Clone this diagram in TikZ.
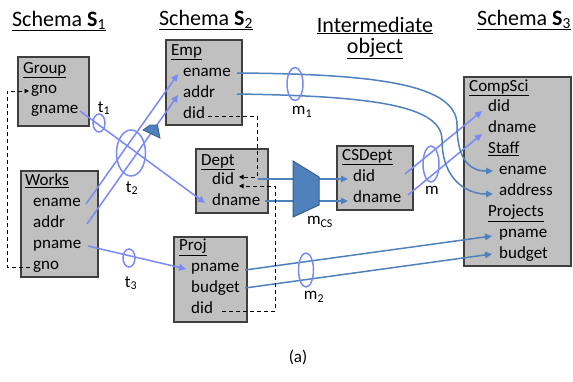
\documentclass[tikz,border=0pt]{standalone}
\usepackage{fontspec}
\setmainfont{Carlito}
\usetikzlibrary{arrows.meta,calc}
\definecolor{lb}{RGB}{122,138,245}
\definecolor{sb}{RGB}{79,129,189}
\definecolor{sbd}{RGB}{56,93,138}
\definecolor{boxfill}{RGB}{192,192,192}
\definecolor{boxline}{RGB}{64,64,64}
\begin{document}
\begin{tikzpicture}[x=1pt,y=-1pt,
  schemabox/.style={draw=boxline,fill=boxfill,line width=1.2pt},
  txt/.style={anchor=mid west,inner sep=0pt,font=\fontsize{17}{20}\selectfont},
  ttl/.style={anchor=base,inner sep=0pt,align=center,font=\fontsize{22}{21}\selectfont},
  lbl/.style={inner sep=0pt,font=\fontsize{17}{20}\selectfont},
  lblue/.style={draw=lb,line width=1.5pt},
  sblue/.style={draw=sb,line width=1.5pt},
  tipL/.style={-{Triangle[length=7pt,width=6.5pt]}},
  dsh/.style={draw=black,line width=0.9pt,dash pattern=on 4pt off 3pt,-{Triangle[length=4.5pt,width=4.5pt]}},
  ring/.style={draw=lb,line width=1.5pt},
]
\useasboundingbox (0,0) rectangle (573,381);

% titles
\node[ttl] (h1) at (59,26) {\underline{Schema \textbf{S}\textsubscript{1}}};
\node[ttl] (h2) at (206,25) {\underline{Schema \textbf{S}\textsubscript{2}}};
\node[ttl] (h3) at (375,53) {\underline{Intermediate}\\\underline{object}};
\node[ttl] (h4) at (524,25) {\underline{Schema \textbf{S}\textsubscript{3}}};

% boxes
\draw[schemabox] (18,57) rectangle (89,126);
\draw[schemabox] (21,171) rectangle (98,277);
\draw[schemabox] (166,40) rectangle (242,125);
\draw[schemabox] (196,149) rectangle (268,213);
\draw[schemabox] (174,237) rectangle (247,322);
\draw[schemabox] (337,146) rectangle (413,210);
\draw[schemabox] (464,77) rectangle (571,266);

% Group
\node[txt] (g-t) at (23,71) {\underline{Group}};
\node[txt] (g-gno) at (31,91) {gno};
\node[txt] (g-gname) at (31,111) {gname};
% Works
\node[txt] (w-t) at (25,183) {\underline{Works}};
\node[txt] (w-ename) at (33,204) {ename};
\node[txt] (w-addr) at (33,225) {addr};
\node[txt] (w-pname) at (33,246) {pname};
\node[txt] (w-gno) at (33,267) {gno};
% Emp
\node[txt] (e-t) at (171,53) {\underline{Emp}};
\node[txt] (e-ename) at (183,74) {ename};
\node[txt] (e-addr) at (183,95) {addr};
\node[txt] (e-did) at (183,116) {did};
% Dept
\node[txt] (d-t) at (201,163) {\underline{Dept}};
\node[txt] (d-did) at (212,182) {did};
\node[txt] (d-dname) at (212,203) {dname};
% Proj
\node[txt] (p-t) at (179,248) {\underline{Proj}};
\node[txt] (p-pname) at (191,269) {pname};
\node[txt] (p-budget) at (191,290) {budget};
\node[txt] (p-did) at (191,311) {did};
% CSDept
\node[txt] (c-t) at (342,158) {\underline{CSDept}};
\node[txt] (c-did) at (353,179) {did};
\node[txt] (c-dname) at (353,200) {dname};
% CompSci
\node[txt] (s-t) at (469,89) {\underline{CompSci}};
\node[txt] (s-did) at (488,109) {did};
\node[txt] (s-dname) at (488,130) {dname};
\node[txt] (s-staff) at (488,151) {\underline{Staff}};
\node[txt] (s-ename) at (499,172) {ename};
\node[txt] (s-address) at (499,193) {address};
\node[txt] (s-proj) at (488,214) {\underline{Projects}};
\node[txt] (s-pname) at (499,235) {pname};
\node[txt] (s-budget) at (499,256) {budget};

% connector end points
\coordinate (o-gname) at (80,111);
\coordinate (i-dname) at (205,203);
\coordinate (o-wename) at (86,204);
\coordinate (i-eename) at (178,74);
\coordinate (o-waddr) at (87,224);
\coordinate (i-eaddr) at (178,95);
\coordinate (o-wpname) at (88,246);
\coordinate (i-ppname) at (186,269);
\coordinate (o-ddid) at (258,179);
\coordinate (i-cdid) at (348,179);
\coordinate (o-ddname) at (265,201);
\coordinate (i-cdname) at (348,201);
\coordinate (o-cdid) at (405,174);
\coordinate (i-sdid) at (482,111);
\coordinate (o-cdname) at (408,195);
\coordinate (i-sdname) at (482,134);
\coordinate (o-eename) at (237,73);
\coordinate (i-sename) at (493,171);
\coordinate (o-eaddr) at (237,94);
\coordinate (i-saddr) at (493,194);
\coordinate (o-ppname) at (245,270);
\coordinate (i-spname) at (492,236);
\coordinate (o-pbudget) at (245,288);
\coordinate (i-sbudget) at (492,254);

% light blue mappings
\draw[lblue,tipL] (o-gname) -- (i-dname);
\draw[lblue,tipL] (o-wename) -- (i-eename);
\draw[lblue,tipL] (o-waddr) -- (i-eaddr);
\draw[lblue,tipL] (o-wpname) -- (i-ppname);
\draw[lblue,tipL] (o-cdid) -- (i-sdid);
\draw[lblue,tipL] (o-cdname) -- (i-sdname);

% steel blue mappings
\draw[sblue,tipL] (o-ddid) -- (i-cdid);
\draw[sblue,tipL] (o-ddname) -- (i-cdname);
\draw[sblue,tipL] (o-eename) .. controls (380,74) and (457,85) .. (457,125)
   .. controls (457,160) and (470,171) .. (i-sename);
\draw[sblue,tipL] (o-eaddr) .. controls (370,96) and (442,105) .. (442,140)
   .. controls (442,178) and (465,194) .. (i-saddr);
\draw[sblue,tipL] (o-ppname) -- (i-spname);
\draw[sblue,tipL] (o-pbudget) -- (i-sbudget);

% dashed foreign keys
\coordinate (k1a) at (30,267);
\coordinate (k1b) at (29,91);
\draw[dsh] (k1a) -- (7,267) -- (7,91) -- (k1b);
\coordinate (k2a) at (208,116);
\coordinate (k2b) at (239,177);
\draw[dsh] (k2a) -- (257,116) -- (257,177) -- (k2b);
\coordinate (k3a) at (222,311);
\coordinate (k3b) at (239,186);
\draw[dsh] (k3a) -- (275,311) -- (275,186) -- (k3b);

% trapezoids
\draw[fill=sb,draw=sbd,line width=1pt] (293,161) -- (319,177) -- (319,205) -- (293,217) -- cycle;
\draw[fill=sb,draw=sbd,line width=0.8pt] (143,130) -- (150,125) -- (157.5,125) -- (160,138) -- cycle;

% rings
\draw[ring] (99,123) ellipse [x radius=6,y radius=9];
\draw[ring] (131,153) ellipse [x radius=14.5,y radius=23];
\draw[ring] (129,258) ellipse [x radius=6,y radius=9];
\draw[ring] (295,84) ellipse [x radius=8,y radius=16.5];
\draw[ring] (306,270) ellipse [x radius=7.5,y radius=17];
\draw[ring] (431,164) ellipse [x radius=8,y radius=18];

% labels
\node[lbl] (l-t1) at (104,108) {t\textsubscript{1}};
\node[lbl] (l-t2) at (132,188) {t\textsubscript{2}};
\node[lbl] (l-t3) at (131,283) {t\textsubscript{3}};
\node[lbl] (l-m1) at (302,112) {m\textsubscript{1}};
\node[lbl] (l-m2) at (314,297) {m\textsubscript{2}};
\node[lbl] (l-m) at (432,190) {m};
\node[lbl] (l-mcs) at (320,222) {m\textsubscript{CS}};
\node[lbl] (l-a) at (298,357) {(a)};
\end{tikzpicture}
\end{document}
